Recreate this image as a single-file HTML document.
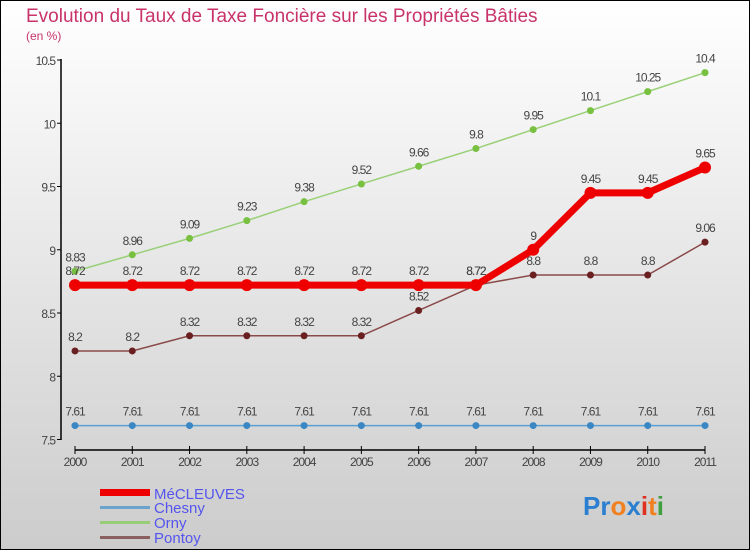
<!DOCTYPE html>
<html><head><meta charset="utf-8"><style>
body{margin:0}
#c{width:750px;height:550px;position:relative;overflow:hidden;font-family:"Liberation Sans",sans-serif}
</style></head><body>
<div id="c">
<svg id="s" width="750" height="550" xmlns="http://www.w3.org/2000/svg">
<defs><linearGradient id="bg" x1="0" y1="0" x2="0" y2="1"><stop offset="0" stop-color="#ffffff"/><stop offset="1" stop-color="#cccccc"/></linearGradient></defs>
<rect x="0.5" y="0.5" width="749" height="549" fill="url(#bg)" stroke="#000"/>
<text x="26" y="22" font-size="19" fill="#c8336a">Evolution du Taux de Taxe Foncière sur les Propriétés Bâties</text>
<text x="26" y="40" font-size="12" fill="#c8336a">(en %)</text>
<g id="axes"></g><g id="series"></g>
<g>
<rect x="100" y="489" width="50" height="7" fill="#e00"/>
<text x="154" y="499" font-size="15" fill="#5555ee">MéCLEUVES</text>
<rect x="100" y="506" width="50" height="3" fill="#6aa4cc"/>
<text x="154" y="513" font-size="15" fill="#5555ee">Chesny</text>
<rect x="100" y="521" width="50" height="3" fill="#99cc77"/>
<text x="154" y="528" font-size="15" fill="#5555ee">Orny</text>
<rect x="100" y="536" width="50" height="3" fill="#8a6060"/>
<text x="154" y="543" font-size="15" fill="#5555ee">Pontoy</text>
</g>
<text x="583" y="515" font-size="26" font-weight="bold"><tspan fill="#2a7fd0">Pr</tspan><tspan fill="#f08020">o</tspan><tspan fill="#2a7fd0">x</tspan><tspan fill="#e03020">i</tspan><tspan fill="#f08020">t</tspan><tspan fill="#40a040">i</tspan></text>
</svg>
<script>
const years=[2000,2001,2002,2003,2004,2005,2006,2007,2008,2009,2010,2011];
const yTicks=[7.5,8,8.5,9,9.5,10,10.5];
const mecleuves=[8.72,8.72,8.72,8.72,8.72,8.72,8.72,8.72,9,9.45,9.45,9.65];
const chesny=[7.61,7.61,7.61,7.61,7.61,7.61,7.61,7.61,7.61,7.61,7.61,7.61];
const orny=[8.83,8.96,9.09,9.23,9.38,9.52,9.66,9.8,9.95,10.1,10.25,10.4];
const pontoy=[8.2,8.2,8.32,8.32,8.32,8.32,8.52,8.72,8.8,8.8,8.8,9.06];
const NS="http://www.w3.org/2000/svg";
const X=i=>75+i*(705-75)/(years.length-1);
const Y=v=>439.5-(v-7.5)*126.5;
function el(t,a,p){const e=document.createElementNS(NS,t);for(const k in a)e.setAttribute(k,a[k]);p.appendChild(e);return e;}
const ax=document.getElementById('axes');
let l=el('line',{x1:61,y1:59,x2:61,y2:440,stroke:'#000','stroke-width':1.5},ax);


yTicks.forEach(v=>{
 el('line',{x1:57,y1:Y(v),x2:61,y2:Y(v),stroke:'#000'},ax);
 const t=el('text',{x:55,y:Y(v)+5,'font-size':12,fill:'#444','text-anchor':'end','letter-spacing':'-1'},ax);
 t.textContent=String(v);
 
 
});
l=el('line',{x1:75,y1:450,x2:705,y2:450,stroke:'#000','stroke-width':1.5},ax);


years.forEach((y,i)=>{
 el('line',{x1:X(i),y1:446,x2:X(i),y2:454,stroke:'#000'},ax);
 const t=el('text',{x:X(i),y:466,'font-size':12,fill:'#444','text-anchor':'middle','letter-spacing':'-1'},ax);
 t.textContent=String(y);
 
 
});
const sg=document.getElementById('series');
function draw(name,data,color,w,r,dot){
 const g=el('g',{},sg);
 
 
 const p=el('polyline',{points:data.map((v,i)=>X(i)+','+Y(v)).join(' '),fill:'none',stroke:color,'stroke-width':w},g);
 
 
 data.forEach((v,i)=>{
  const c=el('circle',{cx:X(i),cy:Y(v),r:r,fill:dot},g);
  
  
  const t=el('text',{x:X(i),y:Y(v)-10,'font-size':12,fill:'#444','text-anchor':'middle','letter-spacing':'-1'},g);
  t.textContent=String(v);
  
  
 });
}
draw('chesny',chesny,'#5a9fd4',1.5,3.5,'#3a87c4');
draw('orny',orny,'#99d077',1.5,3.5,'#77c040');
draw('pontoy',pontoy,'#8a4a4a',1.5,3.5,'#6a2020');
draw('mecleuves',mecleuves,'#ee0000',7,6,'#ee0000');
</script>
</div>
</body></html>
